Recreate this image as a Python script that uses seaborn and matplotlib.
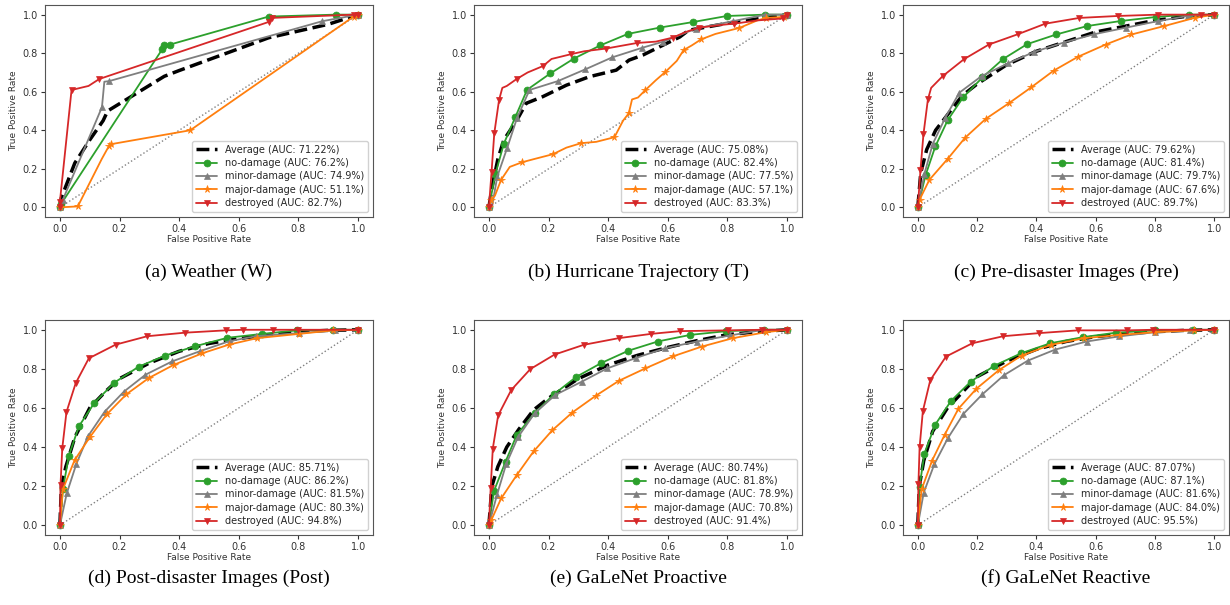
import matplotlib
matplotlib.use("Agg")
import matplotlib.pyplot as plt
import seaborn as sns

# ---- data (fpr, tpr) ----
CLASSES = ["Average", "no-damage", "minor-damage", "major-damage", "destroyed"]
COLORS = ["black", "tab:green", "tab:gray", "tab:orange", "tab:red"]
MARKERS = [None, "o", "^", "*", "v"]

CAPTIONS = [
    "(a) Weather (W)",
    "(b) Hurricane Trajectory (T)",
    "(c) Pre-disaster Images (Pre)",
    "(d) Post-disaster Images (Post)",
    "(e) GaLeNet Proactive",
    "(f) GaLeNet Reactive",
]
AUCS = [
    ["71.22%", "76.2%", "74.9%", "51.1%", "82.7%"],
    ["75.08%", "82.4%", "77.5%", "57.1%", "83.3%"],
    ["79.62%", "81.4%", "79.7%", "67.6%", "89.7%"],
    ["85.71%", "86.2%", "81.5%", "80.3%", "94.8%"],
    ["80.74%", "81.8%", "78.9%", "70.8%", "91.4%"],
    ["87.07%", "87.1%", "81.6%", "84.0%", "95.5%"],
]

# (a) Weather
W_AVG = [(0, 0), (0.005, 0.05), (0.05, 0.23), (0.1, 0.35), (0.145, 0.45), (0.16, 0.5),
         (0.35, 0.68), (0.4, 0.71), (0.7, 0.88), (0.9, 0.95), (1, 1)]
W_NO = [(0, 0), (0.005, 0.02), (0.343, 0.82), (0.35, 0.84), (0.37, 0.845), (0.70, 0.99),
        (0.925, 1.0), (1, 1)]
W_MINOR = [(0, 0), (0.01, 0.04), (0.141, 0.52), (0.149, 0.652), (0.165, 0.655),
           (0.88, 0.966), (1, 1)]
W_MAJOR = [(0, 0), (0.06, 0.005), (0.14, 0.25), (0.165, 0.32), (0.172, 0.328),
           (0.437, 0.40), (0.985, 0.99), (1, 1)]
W_DESTROYED = [(0, 0), (0, 0.03), (0.039, 0.609), (0.096, 0.63), (0.132, 0.666),
               (0.70, 0.962), (0.71, 0.983), (0.985, 1.0), (1, 1)]
W_MARKS = [None, None, [0, 1, 2, 4, 5, 6], [0, 1, 3, 4, 5, 6, 7], [0, 1, 2, 4, 5, 6, 7, 8]]

# (b) Hurricane trajectory
T_AVG = [(0, 0), (0.01, 0.1), (0.03, 0.25), (0.05, 0.35), (0.08, 0.42), (0.1, 0.47),
         (0.125, 0.54), (0.18, 0.574), (0.26, 0.634), (0.337, 0.678), (0.427, 0.712),
         (0.47, 0.764), (0.516, 0.79), (0.583, 0.841), (0.64, 0.884), (0.67, 0.919),
         (0.807, 0.957), (1, 1)]
T_NO = [(0, 0), (0.022, 0.174), (0.05, 0.33), (0.089, 0.47), (0.128, 0.61), (0.206, 0.695),
        (0.285, 0.772), (0.373, 0.84), (0.466, 0.90), (0.574, 0.933), (0.686, 0.962),
        (0.798, 0.993), (0.927, 1.0), (1, 1)]
T_MINOR = [(0, 0), (0.01, 0.0), (0.028, 0.16), (0.061, 0.307), (0.094, 0.462), (0.136, 0.609),
           (0.231, 0.655), (0.323, 0.716), (0.413, 0.778), (0.514, 0.828), (0.583, 0.859),
           (0.695, 0.928), (0.818, 0.966), (0.927, 1.0), (1, 1)]
T_MAJOR = [(0, 0), (0.008, 0.04), (0.02, 0.06), (0.041, 0.143), (0.07, 0.21), (0.111, 0.234),
           (0.15, 0.25), (0.215, 0.276), (0.26, 0.31), (0.309, 0.333), (0.36, 0.34),
           (0.421, 0.364), (0.45, 0.45), (0.469, 0.488), (0.48, 0.56), (0.5, 0.57),
           (0.525, 0.609), (0.56, 0.66), (0.592, 0.703), (0.63, 0.76), (0.653, 0.816),
           (0.68, 0.84), (0.712, 0.872), (0.76, 0.90), (0.84, 0.931), (0.9, 0.97),
           (0.93, 0.983), (0.99, 0.988), (1, 1)]
T_DESTROYED = [(0, 0), (0.009, 0.186), (0.018, 0.384), (0.034, 0.557), (0.045, 0.62),
               (0.06, 0.63), (0.093, 0.666), (0.13, 0.70), (0.181, 0.733), (0.21, 0.77),
               (0.276, 0.795), (0.32, 0.81), (0.393, 0.824), (0.45, 0.84), (0.497, 0.853),
               (0.56, 0.86), (0.617, 0.881), (0.66, 0.91), (0.706, 0.933), (0.8, 0.95),
               (0.823, 0.953), (0.9, 0.97), (0.985, 0.98), (1, 1)]
T_MARKS = [None, None, [0, 2, 3, 4, 5, 6, 7, 8, 9, 10, 11, 12, 13, 14],
           [0, 1, 3, 5, 7, 9, 11, 13, 16, 18, 20, 22, 24, 26, 27],
           [0, 1, 2, 3, 6, 8, 10, 12, 14, 16, 18, 20, 22, 23]]

# (c) Pre-disaster images
PRE_AVG = [(0, 0), (0.01, 0.18), (0.03, 0.3), (0.06, 0.4), (0.1, 0.48), (0.15, 0.58),
           (0.2, 0.64), (0.25, 0.69), (0.3, 0.74), (0.4, 0.81), (0.5, 0.86), (0.6, 0.91),
           (0.7, 0.94), (0.8, 0.97), (0.9, 0.99), (1, 1)]
PRE_NO = [(0, 0), (0.026, 0.166), (0.059, 0.316), (0.101, 0.453), (0.153, 0.571),
          (0.218, 0.674), (0.287, 0.769), (0.369, 0.847), (0.467, 0.897), (0.572, 0.941),
          (0.685, 0.967), (0.804, 0.988), (0.914, 1.0), (1, 1)]
PRE_MINOR = [(0, 0), (0.022, 0.172), (0.05, 0.328), (0.093, 0.466), (0.14, 0.595),
             (0.215, 0.681), (0.304, 0.747), (0.393, 0.807), (0.492, 0.855), (0.594, 0.898),
             (0.704, 0.933), (0.812, 0.967), (0.911, 0.993), (1, 1)]
PRE_MAJOR = [(0, 0), (0.006, 0.04), (0.039, 0.143), (0.101, 0.252), (0.16, 0.362),
             (0.229, 0.459), (0.307, 0.54), (0.382, 0.622), (0.458, 0.709), (0.54, 0.781),
             (0.634, 0.845), (0.721, 0.897), (0.832, 0.941), (0.936, 0.984), (1, 1)]
PRE_DESTROYED = [(0, 0), (0.009, 0.195), (0.019, 0.379), (0.034, 0.56), (0.045, 0.62),
                 (0.084, 0.681), (0.156, 0.769), (0.24, 0.845), (0.337, 0.898), (0.43, 0.953),
                 (0.545, 0.983), (0.674, 0.993), (0.81, 1.0), (0.955, 1.0), (1, 1)]
PRE_MARKS = [None, None, None, None, [0, 1, 2, 3, 5, 6, 7, 8, 9, 10, 11, 12, 13, 14]]

# (d) Post-disaster images
POST_AVG = [(0, 0), (0.005, 0.2), (0.02, 0.3), (0.05, 0.45), (0.1, 0.6), (0.15, 0.68),
            (0.2, 0.75), (0.3, 0.83), (0.4, 0.89), (0.5, 0.93), (0.6, 0.955), (0.7, 0.975),
            (0.8, 0.99), (0.9, 0.997), (1, 1)]
POST_NO = [(0, 0), (0.01, 0.184), (0.03, 0.356), (0.064, 0.507), (0.116, 0.627),
           (0.183, 0.73), (0.264, 0.811), (0.353, 0.868), (0.454, 0.916), (0.562, 0.959),
           (0.679, 0.979), (0.796, 0.997), (0.916, 1.0), (1, 1)]
POST_MINOR = [(0, 0), (0.023, 0.163), (0.055, 0.313), (0.094, 0.455), (0.15, 0.581),
              (0.215, 0.684), (0.287, 0.77), (0.376, 0.838), (0.469, 0.89), (0.569, 0.942),
              (0.657, 0.967), (0.802, 0.983), (0.924, 0.997), (1, 1)]
POST_MAJOR = [(0, 0), (0.01, 0.184), (0.049, 0.332), (0.1, 0.45), (0.157, 0.567),
              (0.223, 0.67), (0.298, 0.753), (0.381, 0.82), (0.478, 0.88), (0.567, 0.924),
              (0.661, 0.957), (0.802, 0.979), (0.916, 0.997), (1, 1)]
POST_DESTROYED = [(0, 0), (0.002, 0.206), (0.008, 0.395), (0.022, 0.579), (0.053, 0.727),
                  (0.097, 0.854), (0.187, 0.924), (0.293, 0.967), (0.418, 0.985),
                  (0.556, 0.997), (0.614, 1.0), (0.715, 1.0), (0.799, 1.0), (1, 1)]

# (e) GaLeNet proactive
PRO_AVG = [(0, 0), (0.01, 0.2), (0.03, 0.3), (0.06, 0.4), (0.1, 0.49), (0.15, 0.59),
           (0.2, 0.65), (0.3, 0.75), (0.4, 0.82), (0.5, 0.87), (0.6, 0.91), (0.7, 0.945),
           (0.8, 0.975), (0.9, 0.99), (1, 1)]
PRO_NO = [(0, 0), (0.017, 0.175), (0.056, 0.326), (0.094, 0.464), (0.153, 0.572),
          (0.218, 0.67), (0.293, 0.759), (0.377, 0.83), (0.468, 0.893), (0.566, 0.94),
          (0.676, 0.974), (0.796, 0.993), (0.921, 1.0), (1, 1)]
PRO_MINOR = [(0, 0), (0.027, 0.155), (0.058, 0.313), (0.098, 0.452), (0.153, 0.572),
             (0.223, 0.667), (0.312, 0.735), (0.396, 0.802), (0.494, 0.856), (0.589, 0.905),
             (0.697, 0.94), (0.809, 0.971), (0.921, 1.0), (1, 1)]
PRO_MAJOR = [(0, 0), (0.008, 0.026), (0.041, 0.137), (0.094, 0.258), (0.15, 0.378),
             (0.212, 0.485), (0.279, 0.576), (0.358, 0.662), (0.436, 0.739), (0.524, 0.802),
             (0.617, 0.864), (0.714, 0.914), (0.818, 0.957), (0.93, 0.988), (1, 1)]
PRO_DESTROYED = [(0, 0), (0.006, 0.192), (0.013, 0.392), (0.031, 0.562), (0.075, 0.692),
                 (0.139, 0.799), (0.22, 0.873), (0.318, 0.923), (0.435, 0.957), (0.544, 0.979),
                 (0.641, 0.993), (0.801, 0.997), (0.916, 1.0), (1, 1)]

# (f) GaLeNet reactive
REA_AVG = [(0, 0), (0.005, 0.2), (0.02, 0.33), (0.05, 0.48), (0.1, 0.6), (0.15, 0.68),
           (0.2, 0.76), (0.3, 0.84), (0.4, 0.9), (0.5, 0.94), (0.6, 0.965), (0.7, 0.98),
           (0.8, 0.99), (0.9, 0.997), (1, 1)]
REA_NO = [(0, 0), (0.006, 0.198), (0.022, 0.366), (0.059, 0.515), (0.112, 0.636),
          (0.179, 0.735), (0.258, 0.816), (0.349, 0.88), (0.447, 0.931), (0.556, 0.962),
          (0.668, 0.985), (0.799, 0.997), (0.93, 1.0), (1, 1)]
REA_MINOR = [(0, 0), (0.02, 0.167), (0.056, 0.313), (0.102, 0.447), (0.154, 0.57),
             (0.218, 0.67), (0.291, 0.768), (0.371, 0.842), (0.464, 0.899), (0.57, 0.94),
             (0.679, 0.966), (0.801, 0.988), (0.92, 0.997), (1, 1)]
REA_MAJOR = [(0, 0), (0.013, 0.184), (0.048, 0.33), (0.091, 0.464), (0.137, 0.596),
             (0.198, 0.699), (0.274, 0.794), (0.35, 0.868), (0.449, 0.923), (0.562, 0.957),
             (0.682, 0.974), (0.801, 0.988), (0.933, 0.997), (1, 1)]
REA_DESTROYED = [(0, 0), (0.002, 0.21), (0.006, 0.399), (0.017, 0.584), (0.042, 0.742),
                 (0.095, 0.863), (0.184, 0.931), (0.288, 0.967), (0.41, 0.983), (0.54, 0.997),
                 (0.706, 0.997), (0.793, 1.0), (1, 1)]

PANELS = [
    [W_AVG, W_NO, W_MINOR, W_MAJOR, W_DESTROYED],
    [T_AVG, T_NO, T_MINOR, T_MAJOR, T_DESTROYED],
    [PRE_AVG, PRE_NO, PRE_MINOR, PRE_MAJOR, PRE_DESTROYED],
    [POST_AVG, POST_NO, POST_MINOR, POST_MAJOR, POST_DESTROYED],
    [PRO_AVG, PRO_NO, PRO_MINOR, PRO_MAJOR, PRO_DESTROYED],
    [REA_AVG, REA_NO, REA_MINOR, REA_MAJOR, REA_DESTROYED],
]
PANEL_MARKS = [W_MARKS, T_MARKS, PRE_MARKS, None, None, None]

# ---- layout (pixels in a 1230x605 canvas) ----
W, H = 1230, 605
COL_X = [(45, 373), (474, 802), (903, 1229)]
ROW_Y = [(5, 217), (320, 535)]
CAPTION_Y = [272, 578]

sns.set_style("ticks")
plt.rcParams["font.family"] = ["DejaVu Sans"]

fig = plt.figure(figsize=(W / 100, H / 100), dpi=100)

for i, curves in enumerate(PANELS):
    r, c = divmod(i, 3)
    x0, x1 = COL_X[c]
    y0, y1 = ROW_Y[r]
    ax = fig.add_axes([x0 / W, 1 - y1 / H, (x1 - x0) / W, (y1 - y0) / H])

    ax.plot([0, 1], [0, 1], color="gray", linestyle=":", linewidth=1)

    marks = PANEL_MARKS[i]
    for k, pts in enumerate(curves):
        xs = [p[0] for p in pts]
        ys = [p[1] for p in pts]
        label = f"{CLASSES[k]} (AUC: {AUCS[i][k]})"
        if k == 0:
            sns.lineplot(x=xs, y=ys, ax=ax, estimator=None, sort=False,
                         color="black", linestyle="--", linewidth=2.5, label=label)
        else:
            me = marks[k] if marks is not None else None
            ms = 5.5 if MARKERS[k] == "*" else 5
            sns.lineplot(x=xs, y=ys, ax=ax, estimator=None, sort=False,
                         color=COLORS[k], marker=MARKERS[k], markevery=me,
                         markersize=ms, markeredgecolor=COLORS[k],
                         markeredgewidth=0.5, linewidth=1.3, label=label)

    ax.set_xticks([0, 0.2, 0.4, 0.6, 0.8, 1.0])
    ax.set_yticks([0, 0.2, 0.4, 0.6, 0.8, 1.0])
    ax.set_xlim(-0.05, 1.05)
    ax.set_ylim(-0.05, 1.05)
    ax.tick_params(labelsize=7, length=3, width=0.8, pad=2, colors="#333333")
    ax.set_xlabel("False Positive Rate", fontsize=6.5, labelpad=1, color="#333333")
    ax.set_ylabel("True Positive Rate", fontsize=6.5, labelpad=3, color="#333333")
    for s in ax.spines.values():
        s.set_linewidth(0.8)
        s.set_color("#555555")
    ax.legend(loc="lower right", fontsize=7, handlelength=2.2,
              borderpad=0.4, labelspacing=0.35, framealpha=0.9)

    fig.text((x0 + x1) / 2 / W, 1 - CAPTION_Y[r] / H, CAPTIONS[i],
             ha="center", va="center", fontsize=14,
             family=["Liberation Serif", "DejaVu Serif"], color="black")

fig.savefig("out.png", dpi=100)
